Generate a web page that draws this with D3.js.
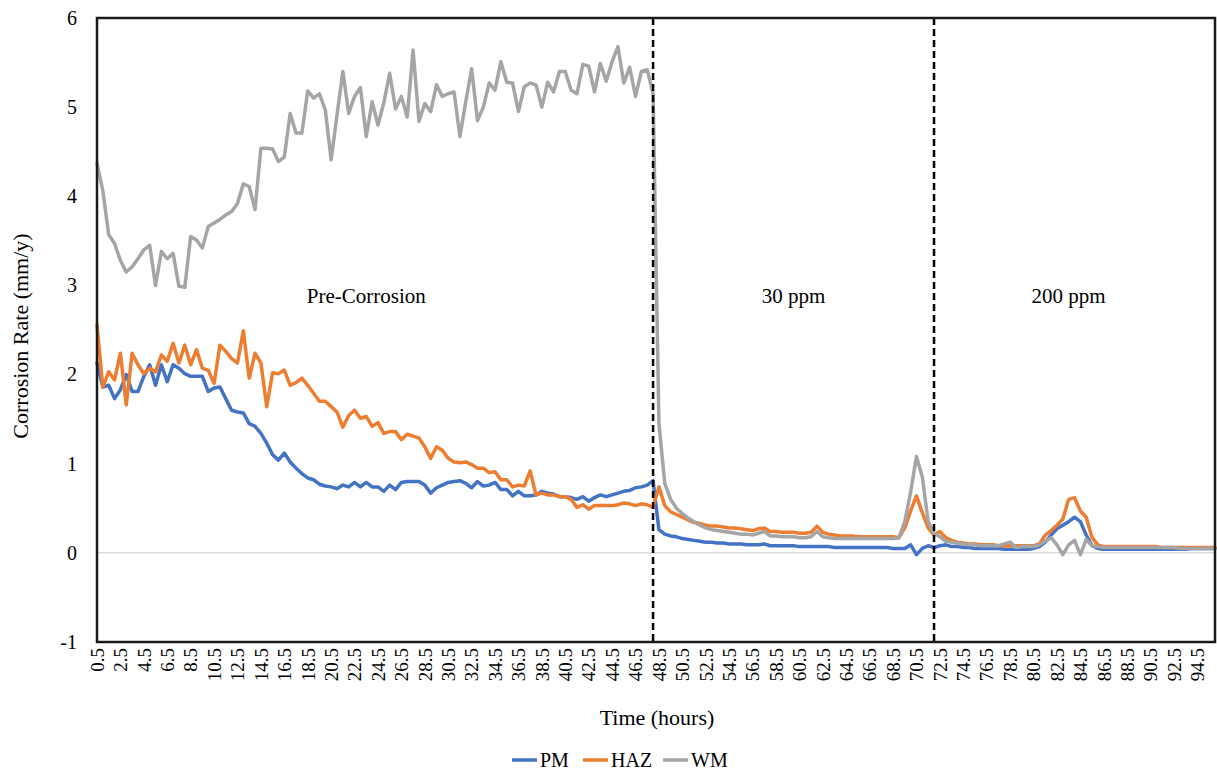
<!DOCTYPE html>
<html>
<head>
<meta charset="utf-8">
<script src="https://cdn.jsdelivr.net/npm/d3@7"></script>
<style>
  html, body { margin: 0; padding: 0; background: #fff; }
  svg { display: block; }
  text { font-family: "Liberation Serif", "Times New Roman", serif; fill: #000; }
</style>
</head>
<body>
<svg id="chart" width="1217" height="776"></svg>
<script>
// Sampling times (hours), one reading every half hour from 0.5 h to 96 h
const categories = d3.range(1, 193).map(k => k / 2);

// Category labels shown on the time axis
const xTickLabels = ["0.5","2.5","4.5","6.5","8.5","10.5","12.5","14.5","16.5","18.5",
  "20.5","22.5","24.5","26.5","28.5","30.5","32.5","34.5","36.5","38.5","40.5","42.5",
  "44.5","46.5","48.5","50.5","52.5","54.5","56.5","58.5","60.5","62.5","64.5","66.5",
  "68.5","70.5","72.5","74.5","76.5","78.5","80.5","82.5","84.5","86.5","88.5","90.5",
  "92.5","94.5"];

const yTicks = [-1, 0, 1, 2, 3, 4, 5, 6];

// Corrosion rate (mm/y) - parent metal
const PM = [
  2.13,1.86,1.88,1.73,1.83,2.00,1.81,1.81,1.98,2.11,
  1.88,2.11,1.92,2.11,2.07,2.01,1.98,1.98,1.98,1.81,
  1.85,1.86,1.73,1.60,1.58,1.57,1.45,1.42,1.34,1.23,
  1.10,1.04,1.12,1.02,0.95,0.89,0.84,0.82,0.77,0.75,
  0.74,0.72,0.76,0.74,0.79,0.74,0.79,0.74,0.74,
  0.69,0.76,0.71,0.79,0.80,0.80,0.80,0.76,0.67,0.73,
  0.76,0.79,0.80,0.81,0.78,0.73,0.80,0.75,0.76,0.79,
  0.71,0.71,0.64,0.69,0.64,0.64,0.65,0.69,0.67,0.66,
  0.63,0.63,0.62,0.60,0.63,0.58,0.62,0.65,0.63,0.65,
  0.67,0.69,0.70,0.73,0.74,0.76,0.81,
  0.26,0.21,0.19,0.18,0.16,0.15,0.14,0.13,0.12,0.12,
  0.11,0.11,0.10,0.10,0.10,0.09,0.09,0.09,0.10,0.08,
  0.08,0.08,0.08,0.08,0.07,0.07,0.07,0.07,0.07,0.07,
  0.06,0.06,0.06,0.06,0.06,0.06,0.06,0.06,0.06,0.06,
  0.05,0.05,0.05,0.09,-0.02,0.05,0.08,0.06,
  0.08,0.09,0.07,0.07,0.06,0.06,0.05,0.05,0.05,0.05,
  0.05,0.04,0.04,0.04,0.04,0.04,0.05,0.07,0.12,0.20,
  0.27,0.31,0.35,0.40,0.35,0.20,0.08,0.05,0.04,0.04,
  0.04,0.04,0.04,0.04,0.04,0.04,0.04,0.04,0.04,0.04,
  0.04,0.04,0.04,0.05,0.05,0.05,0.05,0.05
];

// Corrosion rate (mm/y) - heat affected zone
const HAZ = [
  2.56,1.86,2.03,1.94,2.24,1.66,2.24,2.11,2.01,2.07,
  2.03,2.22,2.15,2.35,2.13,2.33,2.11,2.28,2.07,2.05,
  1.90,2.33,2.26,2.18,2.13,2.49,1.96,2.24,2.13,1.64,
  2.02,2.01,2.05,1.88,1.91,1.96,1.88,1.79,1.70,1.70,
  1.64,1.58,1.41,1.54,1.60,1.51,1.53,1.42,1.46,
  1.34,1.36,1.36,1.27,1.33,1.31,1.29,1.19,1.06,1.19,
  1.15,1.06,1.02,1.01,1.02,0.99,0.95,0.95,0.90,0.91,
  0.82,0.82,0.74,0.76,0.75,0.92,0.65,0.67,0.65,0.65,
  0.63,0.63,0.60,0.51,0.54,0.49,0.53,0.53,0.53,0.53,
  0.54,0.56,0.55,0.53,0.55,0.54,0.51,
  0.74,0.53,0.46,0.43,0.40,0.37,0.34,0.33,0.31,0.30,
  0.30,0.29,0.28,0.28,0.27,0.26,0.25,0.27,0.28,0.24,
  0.24,0.23,0.23,0.23,0.22,0.22,0.23,0.30,0.23,0.21,
  0.20,0.19,0.19,0.19,0.18,0.18,0.18,0.18,0.18,0.18,
  0.18,0.17,0.28,0.47,0.64,0.45,0.28,0.20,
  0.24,0.17,0.14,0.12,0.11,0.10,0.10,0.09,0.09,0.09,
  0.08,0.08,0.08,0.08,0.08,0.08,0.08,0.10,0.20,0.25,
  0.31,0.38,0.60,0.62,0.47,0.40,0.17,0.09,0.07,0.07,
  0.07,0.07,0.07,0.07,0.07,0.07,0.07,0.07,0.06,0.06,
  0.06,0.06,0.06,0.06,0.06,0.06,0.06,0.06
];

// Corrosion rate (mm/y) - weld metal
const WM = [
  4.37,4.06,3.57,3.47,3.28,3.15,3.21,3.30,3.40,3.45,
  3.00,3.38,3.30,3.36,2.99,2.98,3.55,3.51,3.42,3.66,
  3.70,3.74,3.79,3.83,3.92,4.14,4.11,3.85,4.54,4.54,
  4.53,4.39,4.44,4.93,4.71,4.71,5.18,5.10,5.15,4.97,
  4.41,4.91,5.40,4.93,5.12,5.22,4.67,5.06,4.80,
  5.05,5.38,4.98,5.12,4.89,5.64,4.84,5.04,4.95,5.25,
  5.12,5.15,5.17,4.67,5.06,5.43,4.85,5.00,5.27,5.19,
  5.51,5.28,5.27,4.95,5.23,5.27,5.25,5.00,5.28,5.17,
  5.40,5.40,5.19,5.15,5.48,5.46,5.17,5.49,5.29,5.51,
  5.68,5.27,5.45,5.12,5.40,5.42,5.15,
  1.45,0.78,0.60,0.50,0.44,0.39,0.35,0.31,0.28,0.26,
  0.25,0.24,0.23,0.22,0.21,0.21,0.20,0.22,0.24,0.19,
  0.19,0.18,0.18,0.18,0.17,0.17,0.18,0.24,0.18,0.17,
  0.16,0.16,0.16,0.16,0.16,0.16,0.16,0.16,0.16,0.16,
  0.16,0.17,0.35,0.68,1.08,0.85,0.35,0.22,
  0.18,0.13,0.12,0.11,0.10,0.09,0.09,0.08,0.08,0.08,
  0.08,0.10,0.12,0.06,0.07,0.07,0.07,0.09,0.13,0.17,
  0.09,-0.02,0.09,0.14,-0.02,0.15,0.08,0.07,0.06,0.06,
  0.06,0.06,0.06,0.06,0.06,0.06,0.06,0.06,0.06,0.06,
  0.06,0.05,0.05,0.05,0.05,0.05,0.05,0.05
];

const seriesNames = ["PM", "HAZ", "WM"];
const seriesColors = ["#4472C4", "#ED7D31", "#A5A5A5"];

// Stage boundaries (hours) and stage labels
const stageBreaks = [48, 72];
const stageLabels = ["Pre-Corrosion", "30 ppm", "200 ppm"];
const stageLabelTimes = [23.5, 60, 83.5];

const svg = d3.select("#chart");
const plot = { left: 97, right: 1215, top: 18, bottom: 642 };

const x = d3.scalePoint().domain(categories).range([plot.left, plot.right]);
const y = d3.scaleLinear().domain([-1, 6]).range([plot.bottom, plot.top]);

svg.append("rect").attr("width", 1217).attr("height", 776).attr("fill", "#fff");

// zero reference line
svg.append("line")
  .attr("x1", plot.left).attr("x2", plot.right)
  .attr("y1", y(0)).attr("y2", y(0))
  .attr("stroke", "#dcdcdc").attr("stroke-width", 1.5);

// y axis labels
const yAxis = svg.append("g")
  .attr("transform", `translate(${plot.left},0)`)
  .call(d3.axisLeft(y).tickValues(yTicks).tickSize(0).tickPadding(20).tickFormat(d => String(d)));
yAxis.select(".domain").remove();
yAxis.selectAll("text")
  .style("font-family", "'Liberation Serif', serif")
  .style("font-size", "20px").attr("fill", "#000");

// x axis labels, rotated
const xAxis = svg.append("g")
  .attr("transform", `translate(0,${plot.bottom})`)
  .call(d3.axisBottom(x).tickValues(xTickLabels.map(Number)).tickSize(0).tickFormat(d => String(d)));
xAxis.select(".domain").remove();
xAxis.selectAll("text")
  .style("font-family", "'Liberation Serif', serif")
  .style("font-size", "19px").attr("fill", "#000")
  .attr("transform", "rotate(-90)")
  .attr("text-anchor", "end")
  .attr("x", -6).attr("y", 0).attr("dy", "0.33em");

// series lines
const line = d3.line()
  .x((d, i) => x(categories[i]))
  .y(d => y(d));

[PM, HAZ, WM].forEach((vals, k) => {
  svg.append("path")
    .datum(vals)
    .attr("fill", "none")
    .attr("stroke", seriesColors[k])
    .attr("stroke-width", 3.5)
    .attr("stroke-linejoin", "round")
    .attr("stroke-linecap", "round")
    .attr("d", line);
});

// stage boundaries
stageBreaks.forEach(t => {
  svg.append("line")
    .attr("x1", x(t)).attr("x2", x(t))
    .attr("y1", plot.top).attr("y2", plot.bottom)
    .attr("stroke", "#000").attr("stroke-width", 2.5)
    .attr("stroke-dasharray", "7,4");
});

// stage labels
stageLabels.forEach((s, k) => {
  svg.append("text")
    .attr("x", x(stageLabelTimes[k]))
    .attr("y", 303)
    .attr("text-anchor", "middle")
    .style("font-size", "21px")
    .text(s);
});

// plot frame
svg.append("rect")
  .attr("x", plot.left).attr("y", plot.top)
  .attr("width", plot.right - plot.left).attr("height", plot.bottom - plot.top)
  .attr("fill", "none").attr("stroke", "#1a1a1a").attr("stroke-width", 2.5);

// axis titles
svg.append("text")
  .attr("transform", "translate(28,336) rotate(-90)")
  .attr("text-anchor", "middle")
  .style("font-size", "22px")
  .text("Corrosion Rate (mm/y)");

svg.append("text")
  .attr("x", 657).attr("y", 725)
  .attr("text-anchor", "middle")
  .style("font-size", "22px")
  .text("Time (hours)");

// legend
const legendX = [512, 583, 663];
seriesNames.forEach((name, k) => {
  const g = svg.append("g").attr("transform", `translate(${legendX[k]},760)`);
  g.append("line").attr("x1", 0).attr("x2", 25).attr("y1", 0).attr("y2", 0)
    .attr("stroke", seriesColors[k]).attr("stroke-width", 3.5);
  g.append("text").attr("x", 28).attr("y", 7)
    .style("font-size", "20px").text(name);
});
</script>
</body>
</html>
